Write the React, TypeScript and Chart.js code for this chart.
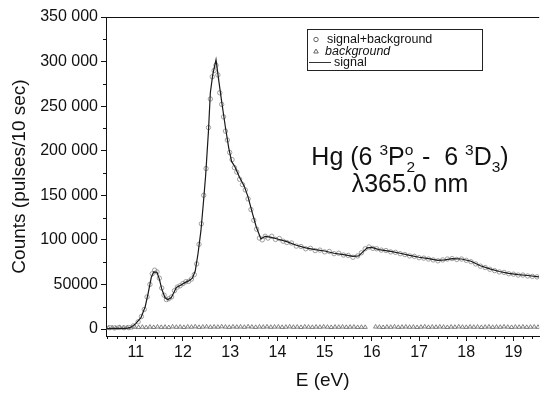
import React, { useEffect, useRef } from "react";
import { Chart, registerables } from "chart.js";

Chart.register(...registerables);

const FONT = "'Liberation Sans', Arial, Helvetica, sans-serif";

const xTicks = [11, 12, 13, 14, 15, 16, 17, 18, 19];
const xTickLabels = ["11", "12", "13", "14", "15", "16", "17", "18", "19"];
const yTicks = [0, 50000, 100000, 150000, 200000, 250000, 300000, 350000];
const yTickLabels = ["0", "50000", "100 000", "150 000", "200 000", "250 000", "300 000", "350 000"];

const legendLabels = ["signal+background", "background", "signal"];
const xTitle = "E (eV)";
const yTitle = "Counts (pulses/10 sec)";

// signal (solid line)
const signalE = [
  10.38, 10.6, 10.8, 10.9, 11.0, 11.11, 11.2, 11.26, 11.33, 11.38, 11.45, 11.5, 11.55, 11.62,
  11.68, 11.75, 11.8, 11.86, 11.95, 12.04, 12.12, 12.2, 12.26, 12.32, 12.38, 12.43, 12.48,
  12.54, 12.58, 12.63, 12.7, 12.76, 12.82, 12.9, 12.97, 13.03, 13.1, 13.2, 13.3, 13.38, 13.46,
  13.55, 13.65, 13.74, 13.85, 14.0, 14.2, 14.4, 14.6, 14.8, 15.0, 15.2, 15.4, 15.6, 15.72, 15.8,
  15.9, 16.0, 16.15, 16.4, 16.6, 16.8, 17.0, 17.2, 17.4, 17.55, 17.7, 17.9, 18.1, 18.3, 18.5,
  18.7, 18.9, 19.1, 19.3, 19.54,
];
const signalCounts = [
  500, 700, 800, 2000, 6000, 12700, 25000, 39500, 58000, 64000, 63500, 56000, 45000, 35000,
  33000, 35000, 40000, 46500, 49000, 52000, 54000, 57000, 65000, 85000, 110000, 140000, 172000,
  222000, 265000, 285000, 302000, 278000, 255000, 226000, 203000, 188000, 182000, 170000, 160000,
  148000, 132000, 115000, 101000, 104000, 103000, 101000, 98000, 94000, 91000, 89000, 87500, 85000,
  83500, 81500, 82000, 86000, 91000, 91500, 89000, 87000, 85000, 82500, 80500, 79000, 77000, 77500,
  79000, 78500, 76000, 71000, 67500, 64500, 62500, 61000, 60000, 58500,
];

// signal + background (open circles)
const sbE = [
  10.45, 10.55, 10.65, 10.75, 10.85, 10.95, 11.05, 11.12, 11.18, 11.24, 11.3, 11.35, 11.4, 11.45,
  11.5, 11.55, 11.6, 11.65, 11.7, 11.76, 11.82, 11.88, 11.94, 12.0, 12.06, 12.12, 12.18, 12.24,
  12.29, 12.34, 12.39, 12.44, 12.49, 12.54, 12.58, 12.62, 12.66, 12.7, 12.74, 12.78, 12.82, 12.86,
  12.9, 12.94, 12.99, 13.04, 13.09, 13.14, 13.2, 13.26, 13.32, 13.38, 13.44, 13.5, 13.56, 13.62,
  13.68, 13.74, 13.8, 13.88, 13.96, 14.04, 14.12, 14.2, 14.3, 14.4, 14.5, 14.6, 14.7, 14.8, 14.9,
  15.0, 15.1, 15.2, 15.3, 15.4, 15.5, 15.6, 15.7, 15.78, 15.86, 15.94, 16.02, 16.1, 16.2, 16.3,
  16.4, 16.5, 16.6, 16.7, 16.8, 16.9, 17.0, 17.1, 17.2, 17.3, 17.4, 17.5, 17.6, 17.7, 17.8, 17.9,
  18.0, 18.1, 18.2, 18.3, 18.4, 18.5, 18.6, 18.7, 18.8, 18.9, 19.0, 19.1, 19.2, 19.3, 19.4, 19.5,
];
const sbCounts = [
  1500, 1200, 1800, 1400, 1600, 3500, 8000, 14000, 22000, 36000, 50000, 62000, 66000, 64000,
  57000, 46000, 38000, 33000, 34000, 36000, 43000, 47000, 48500, 51000, 53000, 53500, 56000, 61000,
  73000, 95000, 118000, 150000, 180000, 226000, 258000, 283000, 290000, 296000, 285000, 265000,
  252000, 238000, 222000, 212000, 198000, 190000, 181000, 176000, 168000, 162000, 156000, 146000,
  134000, 122000, 112000, 102000, 100000, 104000, 102000, 104000, 100500, 101500, 98500, 97000,
  96500, 93000, 92500, 90000, 90500, 88000, 88500, 86500, 87000, 84500, 85000, 83000, 82500, 80500,
  82000, 85500, 90000, 92000, 90500, 90000, 88500, 88000, 86500, 86000, 84500, 83500, 82000, 81500,
  80000, 79500, 78500, 77500, 76500, 77500, 78500, 79000, 78000, 78500, 77000, 75500, 73000, 70500,
  69000, 67000, 65500, 64000, 63500, 62000, 61500, 60500, 60500, 59500, 59000, 58500,
];

// background (open triangles)
const bgE = [
  10.42, 10.5, 10.58, 10.66, 10.74, 10.82, 10.9, 10.98, 11.06, 11.14, 11.22, 11.3, 11.38, 11.46,
  11.54, 11.62, 11.7, 11.78, 11.86, 11.94, 12.02, 12.1, 12.18, 12.26, 12.34, 12.42, 12.5, 12.58,
  12.66, 12.74, 12.82, 12.9, 12.98, 13.06, 13.14, 13.22, 13.3, 13.38, 13.46, 13.54, 13.62, 13.7,
  13.78, 13.86, 13.94, 14.02, 14.1, 14.18, 14.26, 14.34, 14.42, 14.5, 14.58, 14.66, 14.74, 14.82,
  14.9, 14.98, 15.06, 15.14, 15.22, 15.3, 15.38, 15.46, 15.54, 15.62, 15.7, 15.78, 15.86,
  16.08, 16.16, 16.24, 16.32, 16.4, 16.48, 16.56, 16.64, 16.72, 16.8, 16.88, 16.96, 17.04,
  17.12, 17.2, 17.28, 17.36, 17.44, 17.52, 17.6, 17.68, 17.76, 17.84, 17.92, 18.0, 18.08,
  18.16, 18.24, 18.32, 18.4, 18.48, 18.56, 18.64, 18.72, 18.8, 18.88, 18.96, 19.04, 19.12,
  19.2, 19.28, 19.36, 19.44, 19.52,
];
const bgCounts = [
  1200, 1500, 1100, 1600, 1300, 1700, 1400, 2100, 1800, 2200, 1700, 2300, 1900, 2400,
  2000, 2200, 1800, 2500, 2100, 2300, 1900, 2400, 2200, 2600, 2000, 2300, 2500, 2100,
  2400, 2200, 2600, 2300, 2000, 2500, 2200, 2400, 2100, 2600, 2300, 2000, 2400, 2200,
  2500, 2100, 2300, 2400, 2000, 2200, 2500, 2100, 2300, 1900, 2400, 2200, 2000, 2300,
  2100, 2500, 2200, 1900, 2300, 2100, 2400, 2000, 2200, 2300, 1900, 2100, 2000,
  2400, 2200, 1900, 2300, 2100, 2500, 2000, 2200, 2400, 2100, 2300, 1900, 2200,
  2500, 2000, 2300, 2100, 2400, 2200, 1900, 2300, 2100, 2500, 2200, 2000, 2400,
  2100, 2300, 1900, 2200, 2400, 2000, 2300, 2100, 2500, 2200, 1900, 2300, 2100,
  2400, 2000, 2200, 2300, 2100,
];

const X_MIN = 10.37;
const X_MAX = 19.545;
const Y_MIN = -7850;
const Y_MAX = 350000;

const decorPlugin = {
  id: "decor",
  afterDraw(chart: any) {
    const { ctx, chartArea: a, scales } = chart;
    const x = scales.x;
    const y = scales.y;
    ctx.save();
    ctx.strokeStyle = "#111";
    ctx.lineWidth = 1;
    // top frame line
    ctx.beginPath();
    ctx.moveTo(a.left, Math.round(a.top) + 0.5);
    ctx.lineTo(a.right, Math.round(a.top) + 0.5);
    ctx.stroke();
    // minor x ticks every 0.2
    ctx.beginPath();
    for (let i = 52; i <= 97; i++) {
      const v = i / 5;
      if (i % 5 === 0) continue;
      if (v < X_MIN || v > X_MAX) continue;
      const px = Math.round(x.getPixelForValue(v)) + 0.5;
      ctx.moveTo(px, a.bottom);
      ctx.lineTo(px, a.bottom + 3);
    }
    // minor y ticks every 25000
    for (let i = 1; i < 14; i += 2) {
      const v = i * 25000;
      const py = Math.round(y.getPixelForValue(v)) + 0.5;
      ctx.moveTo(a.left, py);
      ctx.lineTo(a.left - 3, py);
    }
    ctx.stroke();

    // legend box
    const bx = 307.5, by = 29.5, bw = 175, bh = 41;
    ctx.strokeStyle = "#222";
    ctx.strokeRect(bx, by, bw, bh);
    ctx.fillStyle = "#111";
    ctx.textBaseline = "middle";
    ctx.textAlign = "left";
    // row 1: circle
    ctx.strokeStyle = "#555";
    ctx.lineWidth = 0.9;
    ctx.beginPath();
    ctx.arc(316, 39.5, 2.2, 0, Math.PI * 2);
    ctx.stroke();
    ctx.font = `12.5px ${FONT}`;
    ctx.fillText(legendLabels[0], 327, 40);
    // row 2: triangle
    ctx.beginPath();
    ctx.moveTo(316, 49);
    ctx.lineTo(318.3, 53);
    ctx.lineTo(313.7, 53);
    ctx.closePath();
    ctx.stroke();
    ctx.font = `italic 12.5px ${FONT}`;
    ctx.fillText(legendLabels[1], 325, 51.5);
    // row 3: line
    ctx.strokeStyle = "#333";
    ctx.lineWidth = 1;
    ctx.beginPath();
    ctx.moveTo(309, 62.5);
    ctx.lineTo(331, 62.5);
    ctx.stroke();
    ctx.font = `12.5px ${FONT}`;
    ctx.fillText(legendLabels[2], 334, 62.5);
    ctx.restore();
  },
};

export default function App() {
  const ref = useRef<HTMLCanvasElement | null>(null);

  useEffect(() => {
    if (!ref.current) return;
    const toPts = (xs: number[], ys: number[]) => xs.map((v, i) => ({ x: v, y: ys[i] }));
    const chart = new Chart(ref.current, {
      type: "scatter",
      data: {
        datasets: [
          {
            label: legendLabels[2],
            data: toPts(signalE, signalCounts),
            showLine: true,
            borderColor: "#1a1a1a",
            borderWidth: 1.2,
            pointRadius: 0,
            tension: 0,
          },
          {
            label: legendLabels[0],
            data: toPts(sbE, sbCounts),
            showLine: false,
            pointStyle: "circle",
            pointRadius: 2.2,
            borderColor: "#888",
            borderWidth: 0.8,
            backgroundColor: "rgba(0,0,0,0)",
          },
          {
            label: legendLabels[1],
            data: toPts(bgE, bgCounts),
            showLine: false,
            pointStyle: "triangle",
            pointRadius: 2.4,
            borderColor: "#666",
            borderWidth: 0.8,
            backgroundColor: "rgba(0,0,0,0)",
          },
        ],
      },
      options: {
        responsive: false,
        animation: false,
        devicePixelRatio: 1,
        layout: { padding: { top: 17, right: 0, left: 0, bottom: 0 } },
        plugins: { legend: { display: false }, tooltip: { enabled: false } },
        scales: {
          x: {
            type: "linear",
            min: X_MIN,
            max: X_MAX,
            afterBuildTicks: (s: any) => {
              s.ticks = xTicks.map((v) => ({ value: v }));
            },
            afterFit: (s: any) => {
              s.height = 62;
            },
            ticks: {
              color: "#111",
              font: { family: FONT, size: 16 },
              padding: 2,
              maxRotation: 0,
              autoSkip: false,
              callback: (v: any) => xTickLabels[xTicks.indexOf(Number(v))] ?? "",
            },
            grid: { drawOnChartArea: false, drawTicks: true, tickLength: 5, color: "#111" },
            border: { display: true, color: "#111", width: 1 },
            title: {
              display: true,
              text: xTitle,
              color: "#111",
              font: { family: FONT, size: 19 },
              padding: { top: 0, bottom: 6 },
            },
          },
          y: {
            type: "linear",
            min: Y_MIN,
            max: Y_MAX,
            afterBuildTicks: (s: any) => {
              s.ticks = yTicks.map((v) => ({ value: v }));
            },
            afterFit: (s: any) => {
              s.width = 106;
            },
            ticks: {
              color: "#111",
              font: { family: FONT, size: 16 },
              padding: 3,
              autoSkip: false,
              callback: (v: any) => yTickLabels[yTicks.indexOf(Number(v))] ?? "",
            },
            grid: { drawOnChartArea: false, drawTicks: true, tickLength: 5, color: "#111" },
            border: { display: true, color: "#111", width: 1 },
            title: {
              display: true,
              text: yTitle,
              color: "#111",
              font: { family: FONT, size: 19 },
              padding: { top: 8, bottom: 0 },
            },
          },
        },
      },
      plugins: [decorPlugin],
    });
    return () => chart.destroy();
  }, []);

  const sup: React.CSSProperties = { fontSize: "62%", position: "relative", top: "-0.65em" };
  const sub: React.CSSProperties = { fontSize: "62%", position: "relative", top: "0.45em" };

  return (
    <div style={{ position: "fixed", left: 0, top: 0, width: 544, height: 398, background: "#fff" }}>
      <canvas ref={ref} width={544} height={398} style={{ display: "block" }} />
      <div
        style={{
          position: "absolute",
          left: 290,
          width: 240,
          top: 143,
          textAlign: "center",
          fontFamily: FONT,
          fontSize: 25,
          lineHeight: "27px",
          color: "#111",
          whiteSpace: "nowrap",
        }}
      >
        <div style={{ height: 27 }}>
          Hg (6 <span style={sup}>3</span>P<span style={sup}>o</span>
          <span style={{ ...sub, marginLeft: "-0.45em" }}>2</span> -&nbsp; 6 <span style={sup}>3</span>D
          <span style={sub}>3</span>)
        </div>
        <div style={{ height: 27 }}>λ365.0 nm</div>
      </div>
    </div>
  );
}
